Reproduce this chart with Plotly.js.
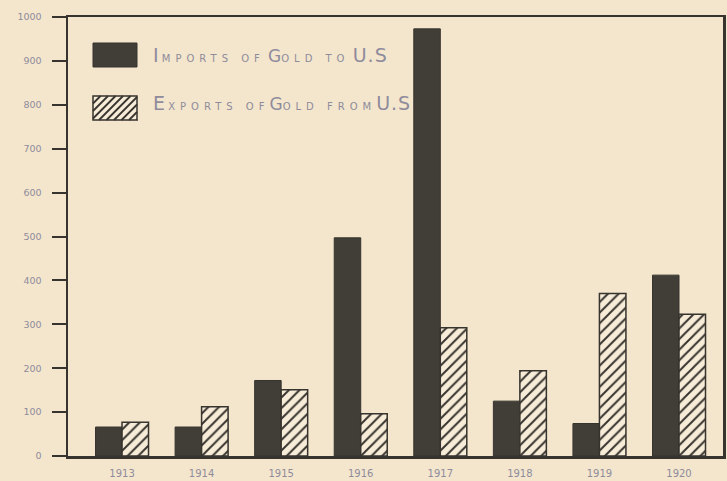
<!DOCTYPE html>
<html>
<head>
<meta charset="utf-8">
<script src="https://cdn.plot.ly/plotly-3.0.1.min.js"></script>
<style>
  html, body { margin: 0; padding: 0; background: #f3e6cd; }
  #chart { width: 727px; height: 481px; }
</style>
</head>
<body>
<div id="chart"></div>
<script>
// ---- data (millions of dollars) ----
const years = ["1913", "1914", "1915", "1916", "1917", "1918", "1919", "1920"];
const importsGold = [66, 66, 172, 497, 973, 125, 74, 412];
const exportsGold = [77, 112, 151, 96, 292, 194, 370, 323];
const yTickVals = [0, 100, 200, 300, 400, 500, 600, 700, 800, 900, 1000];
const yTickText = ["0", "100", "200", "300", "400", "500", "600", "700", "800", "900", "1000"];
const sm = 'font-size:10px;letter-spacing:5px';
const legendImports = '<span style="font-size:19px">I</span> <span style="' + sm + '">MPORTS OF</span> <span style="font-size:17px">G</span><span style="' + sm + '">OLD TO</span> <span style="font-size:19px;letter-spacing:1px">U.S</span>';
const legendExports = '<span style="font-size:19px">E</span> <span style="' + sm + '">XPORTS OF</span><span style="font-size:17px">G</span><span style="' + sm + '">OLD FROM</span><span style="font-size:19px;letter-spacing:1px">U.S</span>';

// ---- layout geometry (pixels) ----
const W = 727, H = 481;
const L = 68, R = 4, T = 17, B = 25;
const pw = W - L - R, ph = H - T - B;
const px = x => (x - L) / pw;
const py = y => (H - B - y) / ph;

const ink = "#37332e";
const paperBg = "#f3e6cd";
const labelCol = "#8f8b9b";

const traces = [
  {
    type: "bar", name: "Imports", x: years, y: importsGold,
    marker: { color: "#413e38", line: { color: ink, width: 1 } },
    showlegend: false, hoverinfo: "skip"
  },
  {
    type: "bar", name: "Exports", x: years, y: exportsGold,
    marker: {
      color: paperBg,
      line: { color: ink, width: 1.5 },
      pattern: { shape: "/", fgcolor: ink, bgcolor: "#f7ecd8", size: 7.5, solidity: 0.26 }
    },
    showlegend: false, hoverinfo: "skip"
  }
];

// legend swatches drawn as shapes
const shapes = [];
function rectShape(x0, y0, x1, y1, fill, lw) {
  shapes.push({ type: "rect", xref: "paper", yref: "paper",
    x0: px(x0), x1: px(x1), y0: py(y1), y1: py(y0),
    fillcolor: fill, line: { color: ink, width: lw }, layer: "above" });
}
rectShape(93, 43, 137, 67, "#413e38", 1);
(function () {
  const x0 = 93, y0 = 96, x1 = 137, y1 = 120, step = 7.5;
  rectShape(x0, y0, x1, y1, "#f7ecd8", 1.5);
  for (let c = x0 + y0 + step; c < x1 + y1; c += step) {
    const xa = Math.max(x0, c - y1), xb = Math.min(x1, c - y0);
    if (xb <= xa) continue;
    shapes.push({ type: "line", xref: "paper", yref: "paper",
      x0: px(xa), y0: py(c - xa), x1: px(xb), y1: py(c - xb),
      line: { color: ink, width: 1.8 }, layer: "above" });
  }
})();

const annotations = [
  { xref: "paper", yref: "paper", x: px(151), y: py(55), xanchor: "left", yanchor: "middle",
    text: legendImports, showarrow: false,
    font: { family: "DejaVu Sans", size: 10, color: labelCol } },
  { xref: "paper", yref: "paper", x: px(151), y: py(103), xanchor: "left", yanchor: "middle",
    text: legendExports, showarrow: false,
    font: { family: "DejaVu Sans", size: 10, color: labelCol } }
];

const layout = {
  width: W, height: H,
  margin: { l: L, r: R, t: T, b: B, pad: 0 },
  paper_bgcolor: paperBg, plot_bgcolor: paperBg,
  barmode: "group", bargap: 0.334, bargroupgap: 0,
  xaxis: {
    type: "category", range: [-0.679, 7.553],
    showline: true, linecolor: ink, linewidth: 2.5, mirror: true,
    showgrid: false, zeroline: false, ticks: "",
    tickfont: { family: "DejaVu Sans", size: 10, color: labelCol },
    ticklabelstandoff: 6, fixedrange: true
  },
  yaxis: {
    range: [0, 1000], tickvals: yTickVals, ticktext: yTickText,
    showline: true, linecolor: ink, linewidth: 2.5, mirror: true,
    showgrid: false, zeroline: false,
    ticks: "outside", ticklen: 14, tickwidth: 2, tickcolor: ink,
    tickfont: { family: "DejaVu Sans", size: 9.5, color: labelCol },
    ticklabelstandoff: 8, fixedrange: true
  },
  shapes: shapes,
  annotations: annotations,
  showlegend: false
};

Plotly.newPlot("chart", traces, layout, { staticPlot: true, displayModeBar: false });
</script>
</body>
</html>
